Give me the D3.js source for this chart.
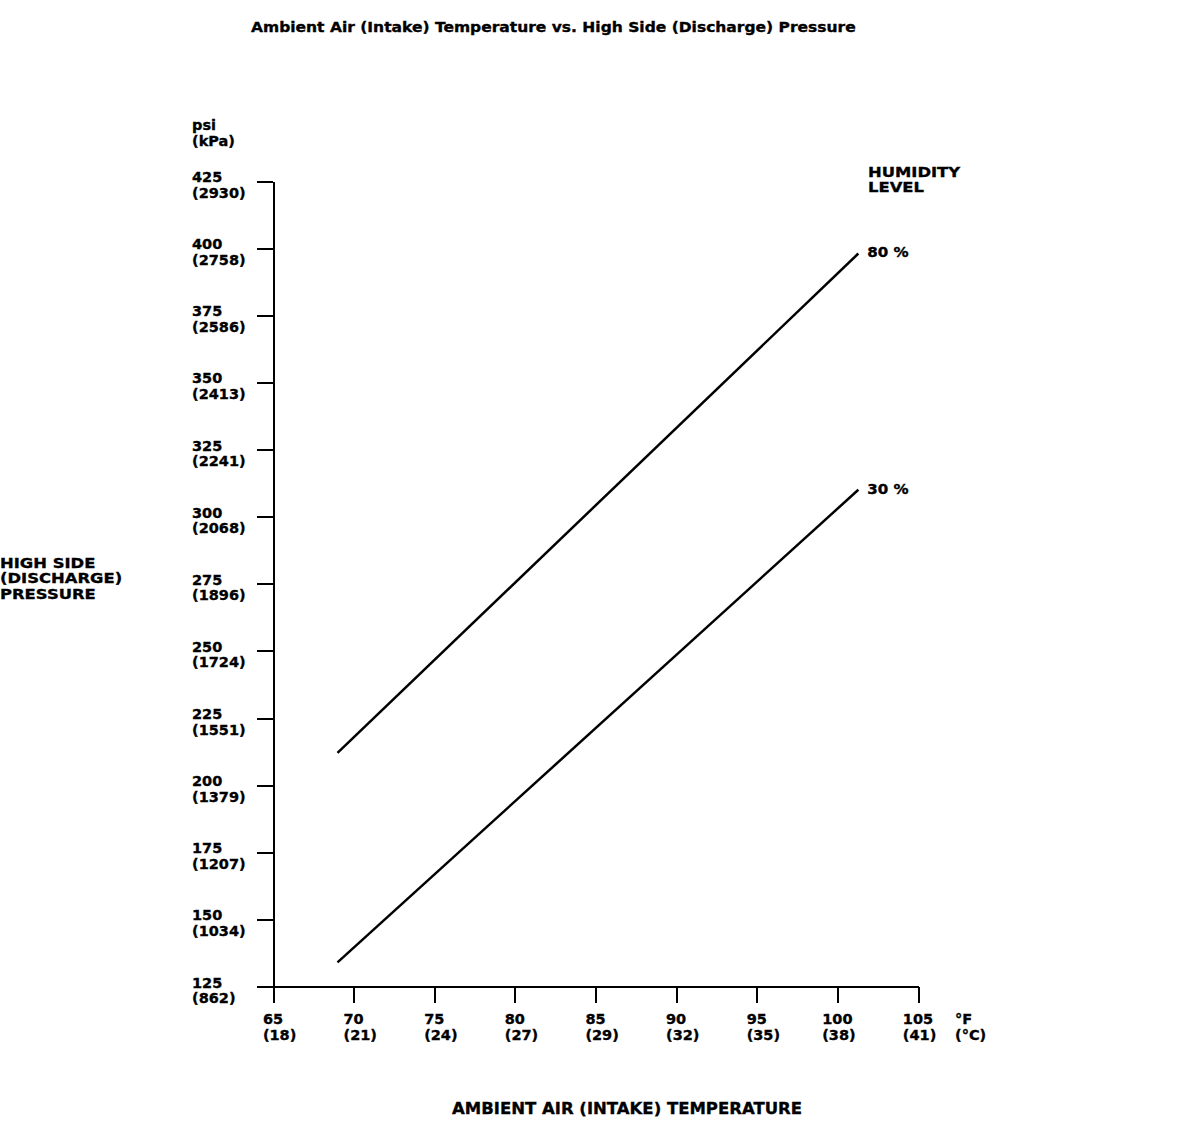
<!DOCTYPE html>
<html>
<head>
<meta charset="utf-8">
<script src="https://cdn.jsdelivr.net/npm/d3@7"></script>
<style>
  body { margin: 0; background: #fff; }
  text { font-family: "DejaVu Sans", sans-serif; font-weight: bold; fill: #000; stroke: #000; stroke-width: 0.35px; }
</style>
</head>
<body>
<div id="chart"></div>
<script>
// pressure ticks (psi) with kPa equivalents
var psiTicks = [125, 150, 175, 200, 225, 250, 275, 300, 325, 350, 375, 400, 425];
var kpaLabels = ["862", "1034", "1207", "1379", "1551", "1724", "1896", "2068", "2241", "2413", "2586", "2758", "2930"];

// temperature ticks (F) with C equivalents
var fTicks = [65, 70, 75, 80, 85, 90, 95, 100, 105];
var cLabels = ["18", "21", "24", "27", "29", "32", "35", "38", "41"];

// humidity lines
var humidity = ["80 %", "30 %"];
var tempF = [69, 101.3];
var psi80 = [212, 398];
var psi30 = [134, 310];

function draw_Chart() {
    "use strict";
    var svg = d3.select("#chart")
        .append("svg")
        .attr("width", 1184)
        .attr("height", 1142);

    var x = d3.scaleLinear().domain([65, 105]).range([273, 918]);
    var y = d3.scaleLinear().domain([125, 425]).range([986.5, 181]);

    // axes: ticks only, labels are drawn below as two-line text
    var yAxis = svg.append("g")
        .attr("transform", "translate(" + x(65) + ",0)")
        .call(d3.axisLeft(y).tickValues(psiTicks).tickSize(16).tickSizeOuter(0).tickFormat(""));
    var xAxis = svg.append("g")
        .attr("transform", "translate(0," + y(125) + ")")
        .call(d3.axisBottom(x).tickValues(fTicks).tickSize(16).tickSizeOuter(0).tickFormat(""));
    [yAxis, xAxis].forEach(function (a) {
        a.selectAll("path, line")
            .attr("stroke", "#000")
            .attr("stroke-width", 2)
            .attr("shape-rendering", "crispEdges");
    });

    // multi-line label; sx stretches it sideways like the original lettering
    function twoLines(px, py, lines, size, sx) {
        var t = svg.append("text")
            .attr("transform", "translate(" + px + "," + py + ") scale(" + (sx || 1) + ",1)")
            .style("font-size", (size || 14.5) + "px");
        lines.forEach(function (d, i) {
            t.append("tspan")
                .attr("x", 0)
                .attr("dy", i === 0 ? 0 : 15.5)
                .text(d);
        });
        return t;
    }

    twoLines(251, 32, ["Ambient Air (Intake) Temperature vs. High Side (Discharge) Pressure"], 14.5, 1.07);

    twoLines(192, 130, ["psi", "(kPa)"]);

    psiTicks.forEach(function (d, i) {
        twoLines(192, y(d) + 1, [String(d), "(" + kpaLabels[i] + ")"]);
    });

    fTicks.forEach(function (d, i) {
        var t = twoLines(0, 1024, [String(d), "(" + cLabels[i] + ")"]);
        var w = t.select("tspan").node().getComputedTextLength();
        t.attr("transform", "translate(" + (x(d) - w / 2) + ",1024)");
    });
    twoLines(955, 1024, ["°F", "(°C)"]);

    twoLines(452, 1114, ["AMBIENT AIR (INTAKE) TEMPERATURE"], 16.5);

    twoLines(0, 568, ["HIGH SIDE", "(DISCHARGE)", "PRESSURE"], 14.5, 1.13);
    twoLines(868, 177, ["HUMIDITY", "LEVEL"], 14.5, 1.13);

    var line = d3.line()
        .x(function (d) { return x(d[0]); })
        .y(function (d) { return y(d[1]); });

    [psi80, psi30].forEach(function (vals, k) {
        var pts = tempF.map(function (t, i) { return [t, vals[i]]; });
        svg.append("path")
            .datum(pts)
            .attr("d", line)
            .attr("fill", "none")
            .attr("stroke", "#000")
            .attr("stroke-width", 2.5);
        twoLines(x(tempF[1]) + 9, y(vals[1]) + 4, [humidity[k]], 14.5, 1.04);
    });
}

draw_Chart();
</script>
</body>
</html>
